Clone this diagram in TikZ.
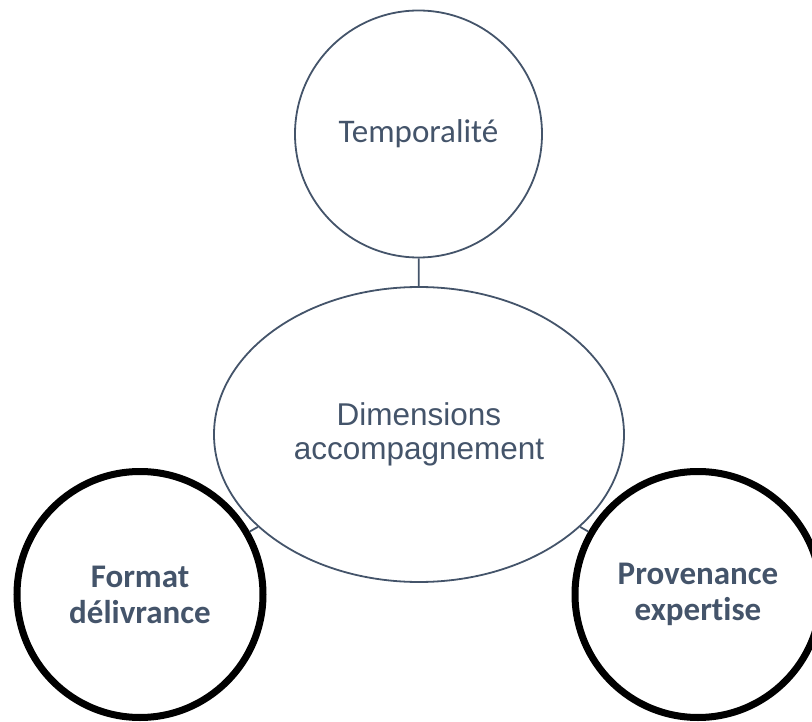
\documentclass[tikz,border=0pt]{standalone}
\usepackage{fontspec}
\setmainfont{Carlito}[Ligatures=NoCommon]
\newfontfamily\arialfont{Liberation Sans}
\usetikzlibrary{shapes.geometric}
\definecolor{SlateText}{HTML}{44546A}

\begin{document}
\begin{tikzpicture}[x=1pt,y=-1pt,
      thinring/.style={draw=SlateText,line width=1.8pt,circle,inner sep=0pt,
                       minimum size=247pt,align=center,text=SlateText},
      boldring/.style={draw=black,line width=7pt,circle,inner sep=0pt,
                       minimum size=246pt,align=center,text=SlateText,
                       font=\fontsize{33}{36}\selectfont\bfseries},
      hub/.style={draw=SlateText,line width=1.8pt,ellipse,inner sep=0pt,
                  minimum width=410pt,minimum height=295pt,align=center,
                  text=SlateText,font=\arialfont\fontsize{31.5}{34}\selectfont},
      link/.style={draw=SlateText,line width=1.8pt},
    ]
    \useasboundingbox (0,0) rectangle (812,722);
    % Centre
    \node[hub] (dims) at (419,434.5) {Dimensions\\accompagnement};
    % Satellites
    \node[thinring,font=\fontsize{33}{36}\selectfont] (temp) at (418.5,134) {\raisebox{-5pt}{Temporalité}};
    \node[boldring] (format) at (140,594.5) {Format\\délivrance};
    \node[boldring] (prov)   at (698,594.5) {Provenance\\expertise};

    \draw[link] (temp) -- (dims);
    \draw[link] (dims) -- (format);
    \draw[link] (dims) -- (prov);
  \end{tikzpicture}
\end{document}
